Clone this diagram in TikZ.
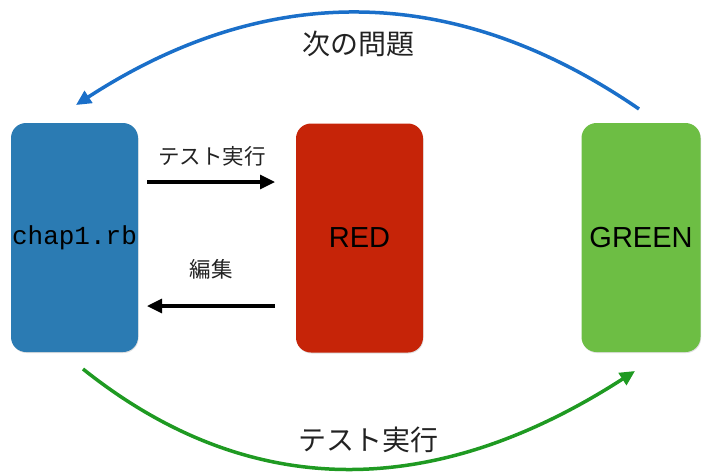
\documentclass[tikz,border=0pt]{standalone}
\usepackage{fontspec}
\newfontfamily\jp{Noto Sans CJK JP}
\newfontfamily\lsans{Liberation Sans}
\newfontfamily\dmono{Liberation Mono}
\usetikzlibrary{arrows.meta,shadows}
\definecolor{boxblue}{HTML}{2B7BB3}
\definecolor{boxred}{HTML}{C62408}
\definecolor{boxgreen}{HTML}{6DBE44}
\definecolor{cblue}{HTML}{1A6FC9}
\definecolor{cgreen}{HTML}{1F9A22}
\definecolor{txt}{HTML}{222222}
\tikzset{
  card/.style={rounded corners=15pt, inner sep=0pt, minimum height=229pt,
    drop shadow={opacity=0.25, shadow xshift=0.6pt, shadow yshift=-1pt}},
  midarrow/.style={line width=3.2pt, -{Triangle[length=15pt,width=14pt]}, black},
  bluearc/.style={line width=3.5pt, draw=cblue, -{Triangle[length=15pt,width=14pt]}},
  greenarc/.style={line width=3.5pt, draw=cgreen, -{Triangle[length=15pt,width=14pt]}},
  midlabel/.style={text=txt, font=\jp\fontsize{21.5pt}{24pt}\selectfont, inner sep=0pt},
  biglabel/.style={text=txt, font=\jp\fontsize{28pt}{32pt}\selectfont, inner sep=0pt},
}
\begin{document}
\begin{tikzpicture}[x=1pt,y=-1pt]
\useasboundingbox (0,0) rectangle (702,475);
% cards
\node[card, fill=boxblue, minimum width=127pt, font=\dmono\fontsize{26pt}{30pt}\selectfont] (chap) at (74.5,237.5) {chap1.rb};
\node[card, fill=boxred, minimum width=127pt, font=\lsans\fontsize{29pt}{32pt}\selectfont] (red) at (359.5,238) {RED};
\node[card, fill=boxgreen, minimum width=119pt, font=\lsans\fontsize{29pt}{32pt}\selectfont] (green) at (641,237.5) {GREEN};
% middle arrows
\coordinate (a1s) at (147,182);
\coordinate (a1e) at (275,182);
\coordinate (a2s) at (275,306);
\coordinate (a2e) at (147,306);
\draw[midarrow] (a1s) -- (a1e);
\draw[midarrow] (a2s) -- (a2e);
\node[midlabel] (l1) at (212,156) {テスト実行};
\node[midlabel] (l2) at (211,269) {編集};
% top arc
\coordinate (ts) at (639,109);
\coordinate (te) at (76,105);
\draw[bluearc] (ts) .. controls (454.7,-17.7) and (267,-19) .. (te);
\node[biglabel] (l3) at (358,44) {次の問題};
% bottom arc
\coordinate (bs) at (83,369);
\coordinate (be) at (635,371);
\draw[greenarc] (bs) .. controls (248.3,501) and (432.3,501.7) .. (be);
\node[biglabel] (l4) at (368,440) {テスト実行};
\end{tikzpicture}
\end{document}
